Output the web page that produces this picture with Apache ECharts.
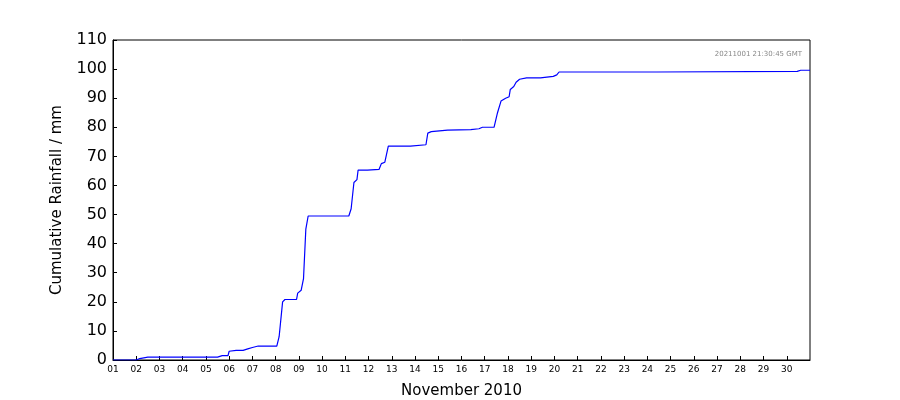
<!DOCTYPE html>
<html><head><meta charset="utf-8">
<script src="https://cdn.jsdelivr.net/npm/echarts@6/dist/echarts.min.js"></script>
<style>html,body{margin:0;padding:0;background:#fff}#c{width:900px;height:400px}</style>
</head><body><div id="c"></div>
<script>
// day offset from 1 Nov 00:00, cumulative rainfall mm
const days = [0,1.0,1.15,1.5,4.5,4.7,4.95,5.0,5.3,5.6,5.8,6.0,6.25,7.05,7.15,7.3,7.4,7.9,7.95,8.1,8.2,8.3,8.4,10.15,10.25,10.37,10.5,10.55,10.95,11.0,11.45,11.55,11.7,11.85,12.8,12.85,13.47,13.55,13.7,13.75,14.4,14.45,15.4,15.75,15.9,16.4,16.55,16.7,16.9,17.05,17.1,17.25,17.35,17.5,17.8,18.4,18.45,18.95,19.1,19.2,23.4,23.45,29.45,29.6,30];
const rain = [0,0,0.5,1,1,1.5,1.5,3,3.3,3.3,3.8,4.3,4.8,4.8,8,20,20.8,20.8,23,24,28,45,49.5,49.5,52,61,62,65.3,65.3,65.5,65.5,67.5,68,73.5,73.5,74,74,78,78.5,79,79,79.2,79.2,79.5,80,80,85,89,90,90.5,93,94,95.5,96.5,97,97,97.5,97.5,98,99,99,99.2,99.2,99.6,99.6];
const dayLabels = ['01','02','03','04','05','06','07','08','09','10','11','12','13','14','15','16','17','18','19','20','21','22','23','24','25','26','27','28','29','30'];
const yTicks = [0,10,20,30,40,50,60,70,80,90,100,110];
const chart = echarts.init(document.getElementById('c'));
const ax = {lineStyle:{color:'#000',width:1}};
chart.setOption({
  animation:false,
  grid:{left:113,right:90,top:40,bottom:40,containLabel:false,outerBoundsMode:'none',show:true,borderColor:'#000',borderWidth:1},
  graphic:[{type:'text',right:98,top:51,style:{text:'20211001 21:30:45 GMT',fill:'#888',font:'7px DejaVu Sans'}}],
  xAxis:{type:'value',min:0,max:30,interval:1,name:'November 2010',nameLocation:'middle',nameGap:24,
    nameTextStyle:{fontSize:15,color:'#000',fontFamily:'DejaVu Sans'},
    axisLine:ax,axisTick:{inside:true,length:4,lineStyle:{color:'#000'}},splitLine:{show:false},
    axisLabel:{color:'#000',fontSize:9,fontFamily:'DejaVu Sans',margin:5,showMaxLabel:false,formatter:v=>dayLabels[v]||''}},
  yAxis:{type:'value',min:0,max:110,interval:10,name:'Cumulative Rainfall / mm',nameLocation:'middle',nameGap:48,
    nameTextStyle:{fontSize:15,color:'#000',fontFamily:'DejaVu Sans'},
    axisLine:ax,axisTick:{inside:true,length:4,lineStyle:{color:'#000'}},splitLine:{show:false},
    axisLabel:{color:'#000',fontSize:16,fontFamily:'DejaVu Sans',margin:6,formatter:v=>yTicks.includes(v)?String(v):''}},
  series:[{type:'line',data:days.map((d,i)=>[d,rain[i]]),showSymbol:false,lineStyle:{color:'#0000ff',width:1.2}}]
});
</script></body></html>
